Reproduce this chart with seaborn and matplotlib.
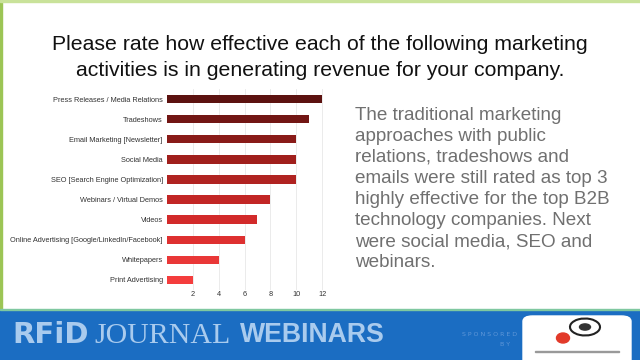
import matplotlib
matplotlib.use("Agg")
import matplotlib.pyplot as plt
import seaborn as sns
import pandas as pd
from matplotlib.patches import Rectangle, FancyBboxPatch, Circle, Ellipse

# data
activities = [
    "Press Releases / Media Relations",
    "Tradeshows",
    "Email Marketing [Newsletter]",
    "Social Media",
    "SEO [Search Engine Optimization]",
    "Webinars / Virtual Demos",
    "Videos",
    "Online Advertising [Google/LinkedIn/Facebook]",
    "Whitepapers",
    "Print Advertising",
]
scores = [12, 11, 10, 10, 10, 8, 7, 6, 4, 2]
x_ticks = [2, 4, 6, 8, 10, 12]

title_lines = ["Please rate how effective each of the following marketing",
               "activities is in generating revenue for your company."]
note = ("The traditional marketing\n"
        "approaches with public\n"
        "relations, tradeshows and\n"
        "emails were still rated as top 3\n"
        "highly effective for the top B2B\n"
        "technology companies. Next\n"
        "were social media, SEO and\n"
        "webinars.")

df = pd.DataFrame({"activity": activities, "score": scores})

W, H = 640, 360
fig = plt.figure(figsize=(6.4, 3.6), dpi=100)
fig.patch.set_facecolor("white")

# slide decoration
fig.patches.append(Rectangle((0, 0), 2 / W, 1, transform=fig.transFigure,
                             color="#9cc555", zorder=0))
fig.patches.append(Rectangle((0, 1 - 2 / H), 1, 2 / H, transform=fig.transFigure,
                             color="#c9e29a", zorder=0))
fig.patches.append(Rectangle((0, 0), 1, 50 / H, transform=fig.transFigure,
                             color="#1b6dc2", zorder=1))
fig.patches.append(Rectangle((0, 50 / H), 1, 1.5 / H, transform=fig.transFigure,
                             color="#7fc8a0", zorder=1))

for i, line in enumerate(title_lines):
    fig.text(0.5, 1 - (45 + 25 * i) / H, line, ha="center", va="center",
             fontsize=15.3, family="Liberation Sans", color="#111111")
fig.text(355 / W, 1 - 189 / H, note, ha="left", va="center", fontsize=13.6,
         family="Liberation Sans", color="#707070", linespacing=1.31)

# bar chart
ax = fig.add_axes([167 / W, 1 - 290 / H, 168 / W, 201 / H])
palette = sns.blend_palette(["#5c1210", "#a01f1c", "#d22a2a", "#f43d3d"],
                            len(activities))
sns.barplot(data=df, x="score", y="activity", hue="activity", palette=palette,
            saturation=1, width=0.42, legend=False, ax=ax, zorder=3)
ax.set_xlim(0, 13)
ax.set_xticks(x_ticks)
ax.set_xlabel("")
ax.set_ylabel("")
ax.grid(axis="x", color="#e8e8e8", linewidth=0.6, zorder=0)
ax.set_axisbelow(True)
for s in ax.spines.values():
    s.set_visible(False)
ax.tick_params(length=0, labelsize=5.3, pad=3, colors="#333333")
ax.tick_params(axis="x", pad=1)
for lab in ax.get_yticklabels() + ax.get_xticklabels():
    lab.set_family("Liberation Sans")

# banner text
fig.text(12 / W, 25 / H, "RFiD", ha="left", va="center", fontsize=21,
         fontweight="bold", family="DejaVu Sans", color="#a9cbee")
fig.text(94 / W, 24 / H, "JOURNAL", ha="left", va="center", fontsize=21.5,
         family="Liberation Serif", color="#a9cbee")
fig.text(240 / W, 25 / H, "WEBINARS", ha="left", va="center", fontsize=19.2,
         fontweight="bold", family="Liberation Sans", color="#a9cbee")
fig.text(490 / W, 26 / H, "S P O N S O R E D", ha="center", va="center",
         fontsize=4.5, color="#5f97d8")
fig.text(505 / W, 16 / H, "B Y", ha="center", va="center",
         fontsize=4.5, color="#5f97d8")

fig.patches.append(FancyBboxPatch((523 / W, -6 / H), 108 / W, 50 / H,
                                  boxstyle="round,pad=0,rounding_size=0.015",
                                  transform=fig.transFigure, color="white", zorder=2))
fig.patches.append(Ellipse((585 / W, 33 / H), 30 / W, 17 / H, angle=25,
                           transform=fig.transFigure, fill=False,
                           edgecolor="#222222", linewidth=1.5, zorder=3))
fig.patches.append(Circle((585 / W, 33 / H), 5.5 / W, transform=fig.transFigure,
                          color="#333333", zorder=4))
fig.patches.append(Ellipse((563 / W, 22 / H), 13 / W, 10 / H,
                           transform=fig.transFigure, color="#e23a2a", zorder=3))
fig.patches.append(Rectangle((535 / W, 8 / H), 84 / W, 0.6 / H,
                             transform=fig.transFigure, color="#999999", zorder=3))

fig.savefig("out.png", dpi=100, facecolor=fig.get_facecolor())
